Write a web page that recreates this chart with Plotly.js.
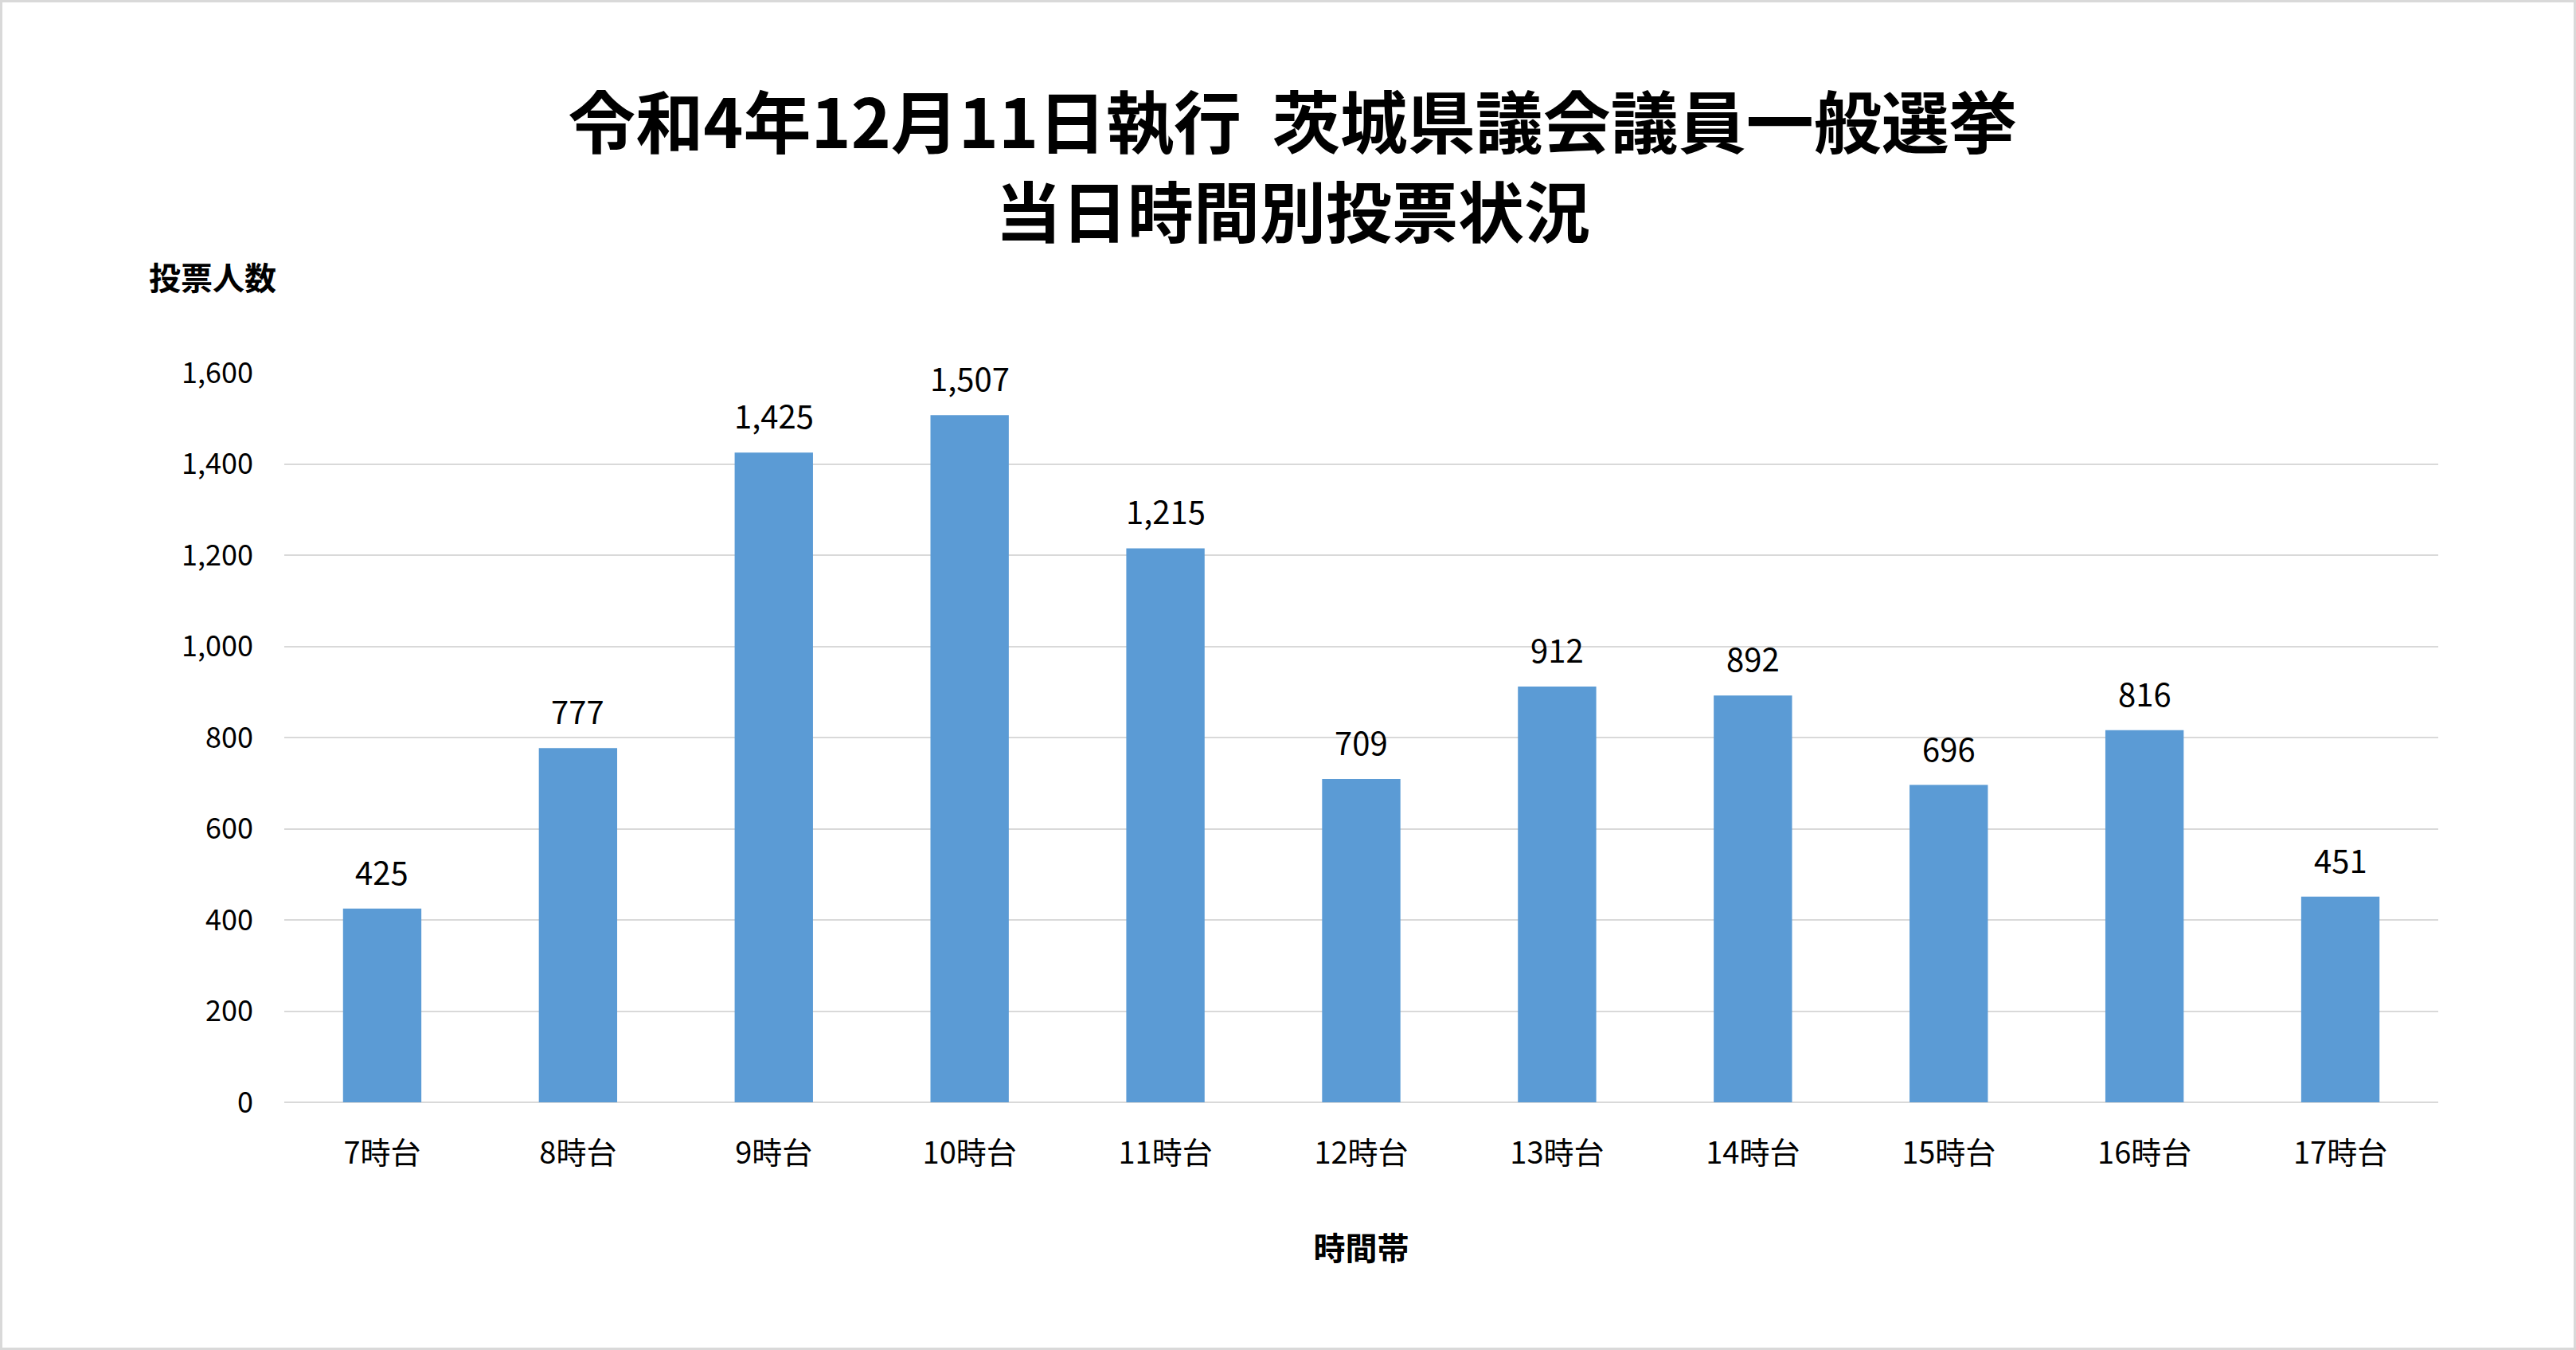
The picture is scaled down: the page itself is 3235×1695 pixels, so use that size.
<!DOCTYPE html>
<html>
<head>
<meta charset="utf-8">
<script src="https://cdn.plot.ly/plotly-3.0.1.min.js"></script>
<style>
html,body{margin:0;padding:0;background:#fff;}
#chart{width:3235px;height:1695px;}
</style>
</head>
<body>
<div id="chart"></div>
<script>
const categories = ["7時台","8時台","9時台","10時台","11時台","12時台","13時台","14時台","15時台","16時台","17時台"];
const voters = [425, 777, 1425, 1507, 1215, 709, 912, 892, 696, 816, 451];
const yTickVals = [0, 200, 400, 600, 800, 1000, 1200, 1400, 1600];
const yTickText = ["0","200","400","600","800","1,000","1,200","1,400","1,600"];
const titleLine1 = "令和4年12月11日執行\u00a0\u00a0茨城県議会議員一般選挙";
const titleLine2 = "当日時間別投票状況";
const yTitle = "投票人数";
const xTitle = "時間帯";

const W = 3235, H = 1695;
const M = {l: 357, r: 173, t: 468, b: 311};
const pw = W - M.l - M.r, ph = H - M.t - M.b;
const FONT = "Noto Sans CJK JP";
const px2py = y => (M.t + ph - y) / ph;
const px2px = x => (x - M.l) / pw;

const fmt = v => v.toLocaleString("en-US");

const annotations = categories.map((c, i) => ({
  x: c, y: voters[i], xref: "x", yref: "y",
  text: fmt(voters[i]), showarrow: false,
  yanchor: "middle", yshift: 47,
  font: {family: FONT, size: 40, color: "#000"}
}));
annotations.push({
  xref: "paper", yref: "paper",
  x: px2px(267), y: px2py(347),
  xanchor: "center", yanchor: "middle",
  text: "<b>" + yTitle + "</b>", showarrow: false,
  font: {family: FONT, size: 40, color: "#000"}
});
annotations.push({
  xref: "paper", yref: "paper",
  x: px2px(1623), y: px2py(262),
  xanchor: "center", yanchor: "middle",
  text: "<b>" + titleLine2 + "</b>", showarrow: false,
  font: {family: FONT, size: 83, color: "#000"}
});

const bw = 3;
const shapes = [{
  type: "rect", xref: "paper", yref: "paper",
  x0: px2px(bw/2), x1: px2px(W - bw/2),
  y0: px2py(H - bw/2), y1: px2py(bw/2),
  line: {color: "#D9D9D9", width: bw}, fillcolor: "rgba(0,0,0,0)", layer: "below"
}];

const data = [{
  type: "bar", x: categories, y: voters,
  marker: {color: "#5B9BD5", line: {width: 0}},
  hoverinfo: "x+y"
}];

const layout = {
  width: W, height: H,
  margin: {l: M.l, r: M.r, t: M.t, b: M.b, pad: 0},
  paper_bgcolor: "#fff", plot_bgcolor: "#fff",
  font: {family: FONT, color: "#000"},
  bargap: 0.6,
  showlegend: false,
  title: {
    text: "<b>" + titleLine1 + "</b>",
    font: {family: FONT, size: 85, color: "#000"},
    x: 1623 / W, xanchor: "center",
    yref: "container", y: 1 - 156 / H, yanchor: "middle"
  },
  xaxis: {
    type: "category",
    tickfont: {family: FONT, size: 38, color: "#000"},
    showgrid: false, showline: false, zeroline: false,
    ticks: "", ticklabelstandoff: 38,
    title: {text: "<b>" + xTitle + "</b>", font: {family: FONT, size: 40, color: "#000"}, standoff: 82}
  },
  yaxis: {
    range: [0, 1600],
    tickvals: yTickVals, ticktext: yTickText,
    tickfont: {family: FONT, size: 36, color: "#000"},
    showgrid: true, gridcolor: "#D9D9D9", gridwidth: 2,
    zeroline: true, zerolinecolor: "#D9D9D9", zerolinewidth: 2,
    showline: false, ticks: "", ticklabelstandoff: 38
  },
  annotations: annotations,
  shapes: shapes
};

Plotly.newPlot("chart", data, layout, {displayModeBar: false, staticPlot: true});
</script>
</body>
</html>
